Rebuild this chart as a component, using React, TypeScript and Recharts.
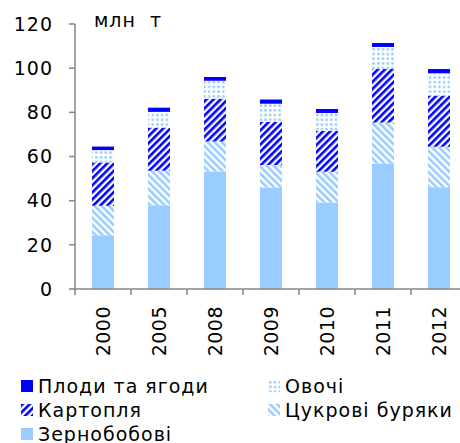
import { BarChart, Bar, XAxis, YAxis, Legend } from "recharts"

// млн т, урожай за роками
const years = ["2000", "2005", "2008", "2009", "2010", "2011", "2012"]
const grain = [24.3, 37.9, 53.2, 46.0, 39.2, 56.8, 46.1]
const beet = [13.4, 15.6, 13.6, 10.1, 13.9, 18.6, 18.3]
const potato = [19.6, 19.6, 19.4, 19.6, 18.5, 24.2, 23.2]
const veg = [5.6, 7.1, 8.1, 8.2, 8.1, 10.0, 10.1]
const fruit = [1.6, 1.9, 1.7, 1.9, 1.8, 1.8, 1.9]
const yTicks = [0, 20, 40, 60, 80, 100, 120]

const data = years.map((year, i) => ({
  year,
  grain: grain[i],
  beet: beet[i],
  potato: potato[i],
  veg: veg[i],
  fruit: fruit[i],
}))

const LIGHT = "#99CCFF"
const BLUE = "#0000FF"
const AXIS = "#868686"
const FONT = "'DejaVu Sans', Verdana, sans-serif"

const CHART_W = 480
const MARGIN = { top: 24, right: 13, left: 0, bottom: 0 }
const Y_W = 75
const HALF_BAND = (CHART_W - Y_W - MARGIN.right - MARGIN.left) / years.length / 2
const TICK_SIZE = 6
const TICK_MARGIN = 11

// legend rows, read left-to-right
const legendItems = [
  { name: "Плоди та ягоди", fill: BLUE },
  { name: "Овочі", fill: "url(#pVeg)" },
  { name: "Картопля", fill: "url(#pPotato)" },
  { name: "Цукрові буряки", fill: "url(#pBeet)" },
  { name: "Зернобобові", fill: LIGHT },
]

function LegendBox() {
  return (
    <div
      style={{
        display: "grid",
        gridTemplateColumns: "247px 200px",
        fontSize: 19,
        lineHeight: "24px",
        letterSpacing: 1,
        fontFamily: FONT,
        color: "#000",
        whiteSpace: "nowrap",
      }}
    >
      {legendItems.map((it) => (
        <div key={it.name} style={{ display: "flex", alignItems: "center" }}>
          <svg width={12} height={12} style={{ marginRight: 5, flex: "none" }}>
            <rect width={12} height={12} fill={it.fill} />
          </svg>
          <span>{it.name}</span>
        </div>
      ))}
    </div>
  )
}

// year label + tick marks on the category boundaries
function YearTick({ x, y, payload, index }: any) {
  const up = -(TICK_SIZE + TICK_MARGIN)
  return (
    <g transform={`translate(${x},${y})`}>
      <line x1={-HALF_BAND} x2={-HALF_BAND} y1={up} y2={up + TICK_SIZE} stroke={AXIS} strokeWidth={1.5} />
      {index === years.length - 1 && (
        <line x1={HALF_BAND} x2={HALF_BAND} y1={up} y2={up + TICK_SIZE} stroke={AXIS} strokeWidth={1.5} />
      )}
      <text
        transform="rotate(-90)"
        textAnchor="end"
        dominantBaseline="central"
        fontSize={19}
        letterSpacing={0.5}
        fontFamily={FONT}
        fill="#000"
      >
        {payload.value}
      </text>
    </g>
  )
}

function UnitLabel({ viewBox }: any) {
  return (
    <text
      x={viewBox.x + viewBox.width + 19}
      y={viewBox.y + 3}
      fontSize={19}
      letterSpacing={1}
      fontFamily={FONT}
      fill="#000"
      style={{ whiteSpace: "pre" }}
    >
      {"млн  т"}
    </text>
  )
}

export default function App() {
  return (
    <div
      style={{
        position: "absolute",
        left: 0,
        top: 0,
        width: 460,
        height: 443,
        overflow: "hidden",
        background: "#fff",
        fontFamily: FONT,
      }}
    >
      <BarChart width={CHART_W} height={443} data={data} margin={MARGIN}>
        <defs>
          <pattern id="pPotato" width={5} height={5} patternUnits="userSpaceOnUse" patternTransform="rotate(45)">
            <rect width={5} height={5} fill="#fff" />
            <rect width={2.6} height={5} fill={BLUE} />
          </pattern>
          <pattern id="pBeet" width={5} height={5} patternUnits="userSpaceOnUse" patternTransform="rotate(-45)">
            <rect width={5} height={5} fill="#fff" />
            <rect width={2.6} height={5} fill={LIGHT} />
          </pattern>
          <pattern id="pVeg" width={4.7} height={4.7} patternUnits="userSpaceOnUse">
            <rect width={4.7} height={4.7} fill="#fff" />
            <circle cx={2.35} cy={2.35} r={1.4} fill={LIGHT} />
          </pattern>
        </defs>
        <XAxis
          dataKey="year"
          height={154}
          axisLine={{ stroke: AXIS, strokeWidth: 1.5 }}
          tickLine={false}
          tickSize={TICK_SIZE}
          tickMargin={TICK_MARGIN}
          interval={0}
          tick={<YearTick />}
        />
        <YAxis
          width={Y_W}
          domain={[0, 120]}
          ticks={yTicks}
          interval={0}
          tickSize={6}
          tickMargin={16}
          tick={{ fontSize: 19, fill: "#000", fontFamily: FONT, letterSpacing: 1 }}
          axisLine={{ stroke: AXIS, strokeWidth: 1.5 }}
          tickLine={{ stroke: AXIS, strokeWidth: 1.5 }}
          label={<UnitLabel />}
        />
        <Legend
          layout="horizontal"
          verticalAlign="middle"
          align="center"
          wrapperStyle={{ top: 374, left: 21, width: 440, height: 70 }}
          content={<LegendBox />}
        />
        <Bar dataKey="grain" name="Зернобобові" stackId="a" fill={LIGHT} barSize={22} isAnimationActive={false} />
        <Bar dataKey="beet" name="Цукрові буряки" stackId="a" fill="url(#pBeet)" barSize={22} isAnimationActive={false} />
        <Bar dataKey="potato" name="Картопля" stackId="a" fill="url(#pPotato)" barSize={22} isAnimationActive={false} />
        <Bar dataKey="veg" name="Овочі" stackId="a" fill="url(#pVeg)" barSize={22} isAnimationActive={false} />
        <Bar dataKey="fruit" name="Плоди та ягоди" stackId="a" fill={BLUE} barSize={22} isAnimationActive={false} />
      </BarChart>
    </div>
  )
}
